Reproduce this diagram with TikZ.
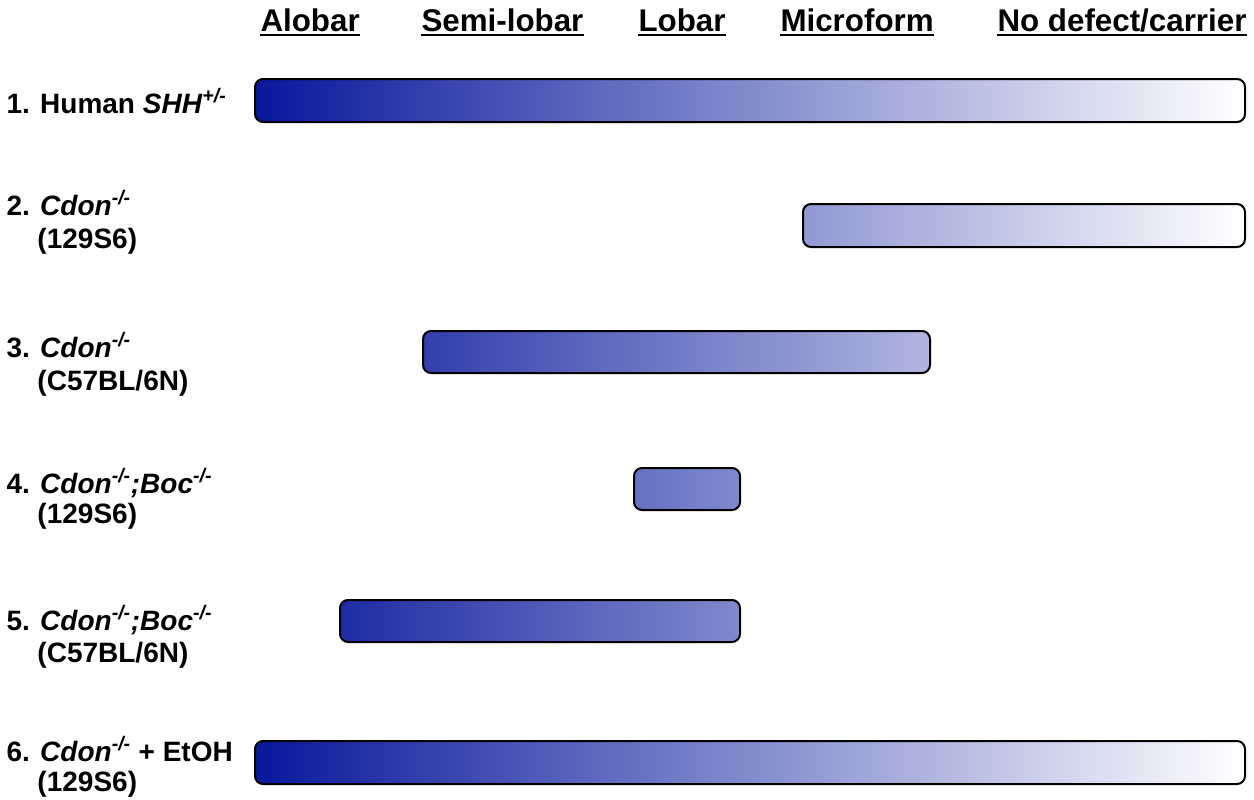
\documentclass[tikz,border=0pt]{standalone}
\usepackage{fontspec}
\setmainfont{Liberation Sans}
\usetikzlibrary{calc}
\definecolor{hpeblue}{RGB}{8,24,156}
\tikzset{every picture/.style={line width=0.75pt}}
\tikzset{
  stagebar/.style 2 args={draw=black, line width=1.5pt, rounded corners=6pt, left color=white!#1!hpeblue, right color=white!#2!hpeblue},
  stagehead/.style={anchor=base west, inner sep=0pt, font=\fontsize{23.5}{28}\selectfont\bfseries},
  rowlabel/.style={anchor=base west, inner sep=0pt, font=\fontsize{21}{25}\selectfont\bfseries},
  headline/.style={line width=1.5pt}
}
\newcommand{\homoz}{\textsuperscript{\textit{-/-}}}

\begin{document}
\begin{tikzpicture}[x=0.75pt,y=0.75pt,yscale=-1,xscale=1]
\useasboundingbox (0,0) rectangle (1254,800);

% Text Node
\draw (260,31.5) node (alobar) [stagehead] {Alobar};
% Text Node
\draw (421,31.5) node (semilobar) [stagehead] {Semi-lobar};
% Text Node
\draw (638,31.5) node (lobar) [stagehead] {Lobar};
% Text Node
\draw (780,31.5) node (microform) [stagehead] {Microform};
% Text Node
\draw (997,31.5) node (nodefect) [stagehead] {No defect/carrier};
%Straight Lines
\foreach \h in {alobar,semilobar,lobar,microform,nodefect}
  \draw [headline] ($(\h.base west)+(0,3)$) -- ($(\h.base east)+(0,3)$) ;

%Shape: Rounded Rectangle
\draw [stagebar={0}{100}] (255,79) rectangle (1245,122) ;
%Shape: Rounded Rectangle
\draw [stagebar={55.4}{100}] (803,204) rectangle (1245,247) ;
%Shape: Rounded Rectangle
\draw [stagebar={17}{68.2}] (423,331) rectangle (930,373) ;
%Shape: Rounded Rectangle
\draw [stagebar={38.3}{49}] (634,468) rectangle (740,510) ;
%Shape: Rounded Rectangle
\draw [stagebar={8.6}{49}] (340,600) rectangle (740,642) ;
%Shape: Rounded Rectangle
\draw [stagebar={0}{100}] (255,741) rectangle (1245,784) ;

% Text Node
\draw (6,113) node (human) [rowlabel] {1. Human \textit{SHH}\textsuperscript{\textit{+/-}}};
% Text Node
\draw (6,215) node (cdonA) [rowlabel] {2. \textit{Cdon}\homoz};
\draw (37,248) node (cdonAstrain) [rowlabel] {(129S6)};
% Text Node
\draw (6,357) node (cdonB) [rowlabel] {3. \textit{Cdon}\homoz};
\draw (37,390) node (cdonBstrain) [rowlabel] {(C57BL/6N)};
% Text Node
\draw (6,493) node (bocA) [rowlabel] {4. \textit{Cdon}\homoz\textit{;Boc}\homoz};
\draw (37,523) node (bocAstrain) [rowlabel] {(129S6)};
% Text Node
\draw (6,630) node (bocB) [rowlabel] {5. \textit{Cdon}\homoz\textit{;Boc}\homoz};
\draw (37,662) node (bocBstrain) [rowlabel] {(C57BL/6N)};
% Text Node
\draw (6,761) node (etoh) [rowlabel] {6. \textit{Cdon}\homoz{} + EtOH};
\draw (37,791) node (etohstrain) [rowlabel] {(129S6)};

\end{tikzpicture}
\end{document}
